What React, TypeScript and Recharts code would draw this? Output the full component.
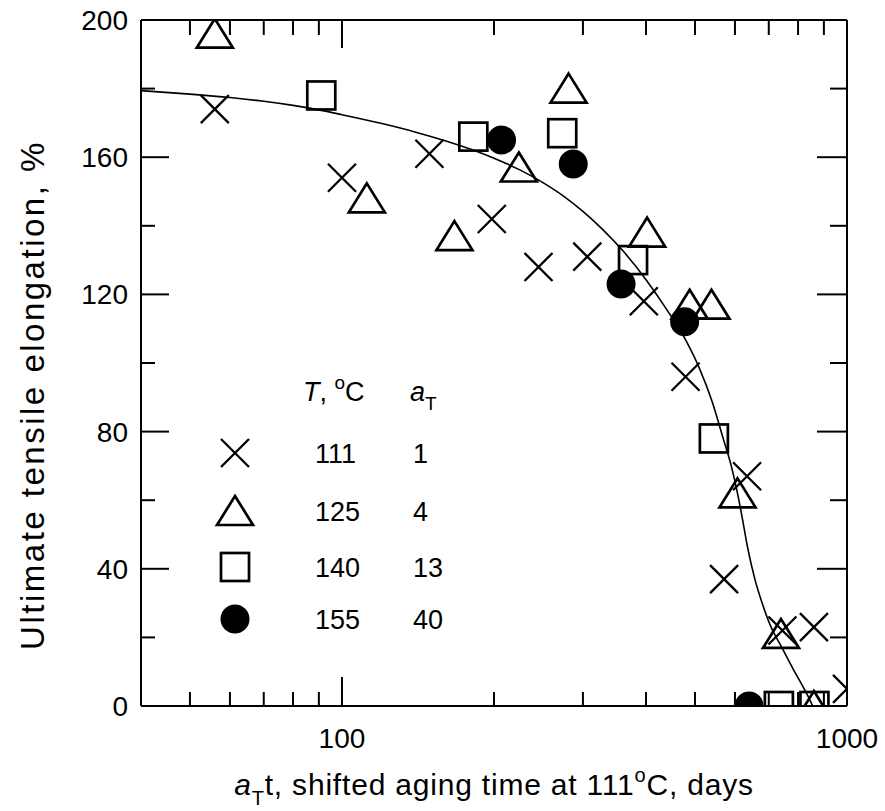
import React from 'react'
import { ScatterChart, Scatter, XAxis, YAxis, Legend } from 'recharts'

const FONT = '"Liberation Sans", Arial, Helvetica, sans-serif'

// 111 °C, aT = 1
const time111 = [56, 100, 149, 198, 245, 306, 396, 479, 571, 634, 745, 860, 1000]
const elong111 = [174, 154, 161, 142, 128, 131, 118, 96, 37, 67, 22, 23, 5]
// 125 °C, aT = 4
const time125 = [56, 112, 167, 224, 281, 402, 488, 539, 607, 740, 860]
const elong125 = [196, 148, 137, 157, 180, 138, 117, 117, 62, 21, 0]
// 140 °C, aT = 13
const time140 = [91, 182, 273, 377, 545, 733, 862]
const elong140 = [178, 166, 167, 130, 78, 0, 0]
// 155 °C, aT = 40
const time155 = [207, 287, 357, 477, 640]
const elong155 = [165, 158, 123, 112, 0]

// fitted curve
const fitTime = [40, 50, 60, 70, 80, 90, 100, 120, 140, 160, 180, 200, 225, 250, 275, 300, 330, 360, 400, 440, 480, 510, 540, 570, 590, 605, 620, 635, 657, 681, 705, 740, 781, 836, 855]
const fitElong = [179.4, 178.4, 177.4, 176.3, 175.1, 173.8, 172.4, 169.8, 167.3, 164.8, 162.3, 159.7, 156.3, 152.6, 148.6, 144.2, 138.6, 132.7, 124.3, 115.5, 106.5, 98.5, 89, 77.5, 70, 63, 55, 46.5, 37, 29.5, 23.5, 17.5, 11, 3, 0]

const xTicks = [50, 60, 70, 80, 90, 100, 200, 300, 400, 500, 600, 700, 800, 900, 1000]
const xLabels = [100, 1000]
const yTicks = [0, 20, 40, 60, 80, 100, 120, 140, 160, 180, 200]
const yLabels = [0, 40, 80, 120, 160, 200]

const pts = (xs: number[], ys: number[]) => xs.map((x, i) => ({ x, y: ys[i] }))

const SW = 2.3

const Cross = ({ cx, cy }: any) => {
  const r = 14
  return (
    <path
      d={`M${cx - r},${cy - r}L${cx + r},${cy + r}M${cx - r},${cy + r}L${cx + r},${cy - r}`}
      stroke="#000" strokeWidth={SW} fill="none"
    />
  )
}
const Tri = ({ cx, cy }: any) => (
  <path d={`M${cx},${cy - 15}L${cx + 18},${cy + 14}L${cx - 18},${cy + 14}Z`} stroke="#000" strokeWidth={SW + 0.4} fill="none" />
)
const Sq = ({ cx, cy }: any) => (
  <rect x={cx - 14} y={cy - 14} width={28} height={28} stroke="#000" strokeWidth={SW + 0.4} fill="none" />
)
const Dot = ({ cx, cy }: any) => <circle cx={cx} cy={cy} r={14.5} fill="#000" />

const series = [
  { temp: '111', aT: '1', data: pts(time111, elong111), Marker: Cross },
  { temp: '125', aT: '4', data: pts(time125, elong125), Marker: Tri },
  { temp: '140', aT: '13', data: pts(time140, elong140), Marker: Sq },
  { temp: '155', aT: '40', data: pts(time155, elong155), Marker: Dot },
]

const txt = { fontFamily: FONT, fontSize: 27, fill: '#000' }

const BottomTick = ({ x, y, payload }: any) => {
  const major = xLabels.includes(payload.value)
  return (
    <g>
      <line x1={x} x2={x} y1={y} y2={y - (major ? 29 : 14)} stroke="#000" strokeWidth={2} />
      {major && <text x={x} y={y + 42} textAnchor="middle" {...txt} fontSize={28}>{payload.value}</text>}
    </g>
  )
}
const TopTick = ({ x, y, payload }: any) => {
  const major = xLabels.includes(payload.value)
  return <line x1={x} x2={x} y1={y} y2={y + (major ? 28 : 15)} stroke="#000" strokeWidth={2} />
}
const LeftTick = ({ x, y, payload }: any) => {
  const major = yLabels.includes(payload.value)
  return (
    <g>
      <line x1={x} x2={x + (major ? 28 : 14)} y1={y} y2={y} stroke="#000" strokeWidth={2} />
      {major && <text x={x - 13} y={y + 10} textAnchor="end" {...txt} fontSize={28}>{payload.value}</text>}
    </g>
  )
}
const RightTick = ({ x, y, payload }: any) => {
  const major = yLabels.includes(payload.value)
  return <line x1={x} x2={x - (major ? 30 : 17)} y1={y} y2={y} stroke="#000" strokeWidth={2} />
}

const XTitle = ({ viewBox }: any) => (
  <text x={viewBox.x + viewBox.width / 2} y={795} textAnchor="middle" {...txt} fontSize={30} letterSpacing={0.8}>
    <tspan fontStyle="italic">a</tspan>
    <tspan fontSize={20} dy={10}>T</tspan>
    <tspan dy={-10}>t, shifted aging time at 111</tspan>
    <tspan fontSize={20} dy={-13}>o</tspan>
    <tspan dy={13}>C, days</tspan>
  </text>
)
const YTitle = () => (
  <text x={0} y={0} transform="translate(44,395) rotate(-90)" textAnchor="middle" {...txt} fontSize={33} letterSpacing={2.5}>
    Ultimate tensile elongation, %
  </text>
)

const rowY = [93, 151, 207, 259]

const LegendBox = () => (
  <svg width={260} height={300} style={{ overflow: 'visible', display: 'block' }}>
    <text x={103} y={41} {...txt}>
      <tspan fontStyle="italic">T</tspan>
      <tspan>, </tspan>
      <tspan fontSize={19} dy={-12}>o</tspan>
      <tspan dy={12}>C</tspan>
    </text>
    <text x={210} y={41} {...txt}>
      <tspan fontStyle="italic">a</tspan>
      <tspan fontSize={19} dy={9}>T</tspan>
    </text>
    {series.map((s, i) => (
      <g key={s.temp}>
        <s.Marker cx={35} cy={rowY[i]} />
        <text x={115} y={rowY[i] + 10} {...txt}>{s.temp}</text>
        <text x={213} y={rowY[i] + 10} {...txt}>{s.aT}</text>
      </g>
    ))}
  </svg>
)

export default function App() {
  return (
    <div style={{ position: 'absolute', left: 0, top: 0, background: '#fff' }}>
      <ScatterChart width={885} height={811} margin={{ top: 0, right: 0, bottom: 0, left: 0 }}>
        <XAxis
          xAxisId="b" type="number" dataKey="x" scale="log" domain={[40, 1000]} allowDataOverflow
          ticks={xTicks} interval={0} height={105} tickSize={0} tickMargin={0} tickLine={false}
          axisLine={{ stroke: '#000', strokeWidth: 2 }} tick={(p: any) => <BottomTick {...p} />}
          label={{ content: XTitle }}
        />
        <XAxis
          xAxisId="t" orientation="top" type="number" dataKey="x" scale="log" domain={[40, 1000]} allowDataOverflow
          ticks={xTicks} interval={0} height={20} tickSize={0} tickMargin={0} tickLine={false}
          axisLine={{ stroke: '#000', strokeWidth: 2 }} tick={(p: any) => <TopTick {...p} />}
        />
        <YAxis
          yAxisId="l" type="number" dataKey="y" domain={[0, 200]} allowDataOverflow
          ticks={yTicks} interval={0} width={141} tickSize={0} tickMargin={0} tickLine={false}
          axisLine={{ stroke: '#000', strokeWidth: 2 }} tick={(p: any) => <LeftTick {...p} />}
          label={{ content: YTitle }}
        />
        <YAxis
          yAxisId="r" orientation="right" type="number" dataKey="y" domain={[0, 200]} allowDataOverflow
          ticks={yTicks} interval={0} width={38} tickSize={0} tickMargin={0} tickLine={false}
          axisLine={{ stroke: '#000', strokeWidth: 2 }} tick={(p: any) => <RightTick {...p} />}
        />
        <Scatter
          xAxisId="b" yAxisId="l" name="fit" data={pts(fitTime, fitElong)}
          line={{ stroke: '#000', strokeWidth: 1.6 }} lineJointType="monotoneX"
          shape={() => <g />} legendType="none" isAnimationActive={false}
        />
        {series.map((s) => (
          <Scatter
            key={s.temp} xAxisId="b" yAxisId="l" name={s.temp} data={s.data}
            shape={(p: any) => <s.Marker cx={p.cx} cy={p.cy} />} isAnimationActive={false}
          />
        ))}
        <Legend
          layout="vertical" align="center" verticalAlign="middle"
          wrapperStyle={{ left: 200, top: 360, width: 260, height: 300 }}
          content={() => <LegendBox />}
        />
      </ScatterChart>
    </div>
  )
}
